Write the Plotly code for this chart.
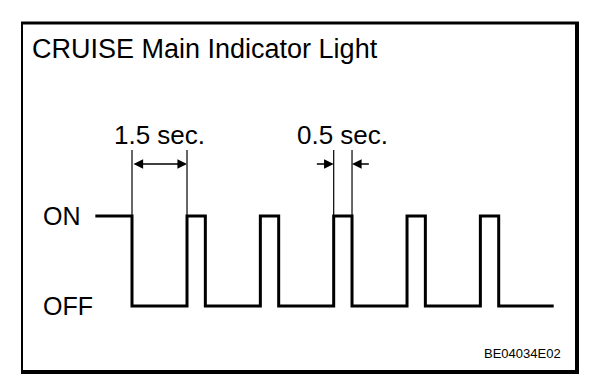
import plotly.graph_objects as go

# ---- data ----
time_s = [-1.0, 0.0, 1.5, 2.0, 3.5, 4.0, 5.5, 6.0, 7.5, 8.0, 9.5, 10.0, 11.5]
state = [1, 0, 1, 0, 1, 0, 1, 0, 1, 0, 1, 0, 0]
state_labels = ["OFF", "ON"]
title_text = "CRUISE Main Indicator Light"
interval_labels = ["1.5 sec.", "0.5 sec."]
interval_off = [0.0, 1.5]   # 1.5 s OFF interval
interval_on = [5.5, 6.0]    # 0.5 s ON interval
code_text = "BE04034E02"

W, H = 608, 386
# pixel mapping (layout only)
X0_PX, PX_PER_S = 124.0, 36.67
Y_ON_PX, Y_OFF_PX = 208.0, 298.0
PX_PER_UNIT = Y_OFF_PX - Y_ON_PX

def px2t(px):
    return (px - X0_PX) / PX_PER_S

def py2v(py):
    return (Y_OFF_PX - py) / PX_PER_UNIT

def px(x):
    return x / W

def py(y):
    return 1 - y / H

FONT = "Liberation Sans, Arial, sans-serif"
BOTTOM = 364

fig = go.Figure()
fig.add_trace(go.Scatter(
    x=time_s, y=state, mode="lines", line=dict(color="black", width=3, shape="hv"),
    hoverinfo="skip", showlegend=False,
))

shapes = []
# frame
shapes += [
    dict(type="line", xref="paper", yref="paper", x0=px(14), x1=px(14), y0=py(15), y1=py(BOTTOM), line=dict(color="black", width=2)),
    dict(type="line", xref="paper", yref="paper", x0=px(13), x1=px(571), y0=py(15), y1=py(15), line=dict(color="black", width=3)),
    dict(type="line", xref="paper", yref="paper", x0=px(569), x1=px(569), y0=py(14), y1=py(BOTTOM + 1), line=dict(color="black", width=4)),
    dict(type="line", xref="paper", yref="paper", x0=px(13), x1=px(571), y0=py(BOTTOM), y1=py(BOTTOM), line=dict(color="black", width=4)),
]
# extension lines
ext_top = py2v(142)
for t in interval_off + interval_on:
    shapes.append(dict(type="line", xref="x", yref="y", x0=t, x1=t, y0=1, y1=ext_top,
                       line=dict(color="black", width=1.2)))

annotations = []
arrow_y = py2v(156)
# 1.5 s double arrow
annotations.append(dict(x=interval_off[1], y=arrow_y, ax=interval_off[0], ay=arrow_y,
                        xref="x", yref="y", axref="x", ayref="y", text="", showarrow=True,
                        arrowside="end+start", arrowhead=2, arrowsize=1.2, arrowwidth=1.6,
                        arrowcolor="black", standoff=0, startstandoff=0, startarrowhead=2, startarrowsize=1.2))
# 0.5 s outside arrows
annotations.append(dict(x=interval_on[0], y=arrow_y, ax=interval_on[0] - 0.5, ay=arrow_y,
                        xref="x", yref="y", axref="x", ayref="y", text="", showarrow=True,
                        arrowhead=2, arrowsize=1.2, arrowwidth=1.6, arrowcolor="black", standoff=0))
annotations.append(dict(x=interval_on[1], y=arrow_y, ax=interval_on[1] + 0.5, ay=arrow_y,
                        xref="x", yref="y", axref="x", ayref="y", text="", showarrow=True,
                        arrowhead=2, arrowsize=1.2, arrowwidth=1.6, arrowcolor="black", standoff=0))

# interval labels
annotations.append(dict(x=(interval_off[0] + interval_off[1]) / 2, y=py2v(127), xref="x", yref="y",
                        text=interval_labels[0], showarrow=False, xanchor="center", yanchor="middle",
                        font=dict(family=FONT, size=26, color="black")))
annotations.append(dict(x=px2t(334), y=py2v(127), xref="x", yref="y",
                        text=interval_labels[1], showarrow=False, xanchor="center", yanchor="middle",
                        font=dict(family=FONT, size=26, color="black")))
# state labels
for v, lab in enumerate(state_labels):
    annotations.append(dict(x=px(33), y=v, xref="paper", yref="y", text=lab, showarrow=False,
                            xanchor="left", yanchor="middle", font=dict(family=FONT, size=25, color="black")))
# title
annotations.append(dict(x=px(22), y=py(41), xref="paper", yref="paper", text=title_text, showarrow=False,
                        xanchor="left", yanchor="middle", font=dict(family=FONT, size=27, color="black")))
# code
annotations.append(dict(x=px(555), y=py(BOTTOM - 19), xref="paper", yref="paper", text=code_text, showarrow=False,
                        xanchor="right", yanchor="middle", font=dict(family=FONT, size=13, color="black")))

fig.update_layout(
    width=W, height=H, margin=dict(l=0, r=0, t=0, b=0),
    paper_bgcolor="white", plot_bgcolor="white",
    xaxis=dict(range=[px2t(0), px2t(W)], visible=False, fixedrange=True),
    yaxis=dict(range=[py2v(H), py2v(0)], visible=False, fixedrange=True),
    shapes=shapes, annotations=annotations, showlegend=False,
)

fig.write_html("out.html")
